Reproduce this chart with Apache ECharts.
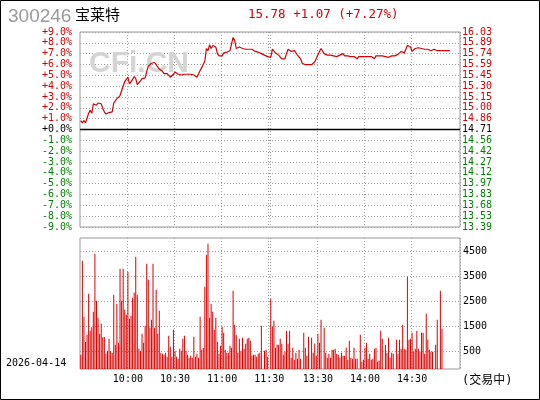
<!DOCTYPE html>
<html><head><meta charset="utf-8">
<script src="https://cdn.jsdelivr.net/npm/echarts@6/dist/echarts.min.js"></script>
<style>html,body{margin:0;padding:0;background:#fff}#c{width:540px;height:400px}</style>
</head><body><div id="c"></div>
<script>
const stockCode = '300246';
const stockName = '宝莱特';
const quoteText = '15.78 +1.07 (+7.27%)';
const tradeDate = '2026-04-14';
const statusText = '(交易中)';
const prevClose = 14.71;

const prices = [
14.83,14.80,14.83,14.80,14.79,14.93,14.97,14.93,15.06,15.07,
15.04,15.07,15.09,15.06,15.00,14.95,14.92,14.94,14.94,14.94,
14.95,15.07,15.07,15.13,15.13,15.17,15.24,15.30,15.36,15.37,
15.42,15.33,15.34,15.39,15.43,15.40,15.32,15.33,15.37,15.40,
15.40,15.41,15.50,15.57,15.59,15.61,15.63,15.62,15.59,15.56,
15.53,15.52,15.50,15.47,15.46,15.47,15.45,15.42,15.42,15.46,
15.49,15.47,15.46,15.44,15.45,15.47,15.46,15.46,15.46,15.47,
15.46,15.45,15.45,15.44,15.42,15.41,15.51,15.55,15.56,15.64,
15.81,15.78,15.86,15.81,15.85,15.84,15.83,15.74,15.71,15.69,
15.71,15.75,15.76,15.76,15.76,15.78,15.80,15.96,15.92,15.81,
15.81,15.83,15.84,15.81,15.80,15.80,15.78,15.80,15.78,15.80,
15.78,15.77,15.76,15.76,15.74,15.74,15.72,15.72,15.71,15.70,
15.71,15.69,15.80,15.81,15.75,15.74,15.72,15.70,15.67,15.67,
15.67,15.74,15.80,15.78,15.77,15.78,15.78,15.76,15.72,15.70,
15.67,15.61,15.61,15.59,15.59,15.59,15.59,15.59,15.61,15.63,
15.64,15.72,15.77,15.81,15.80,15.74,15.72,15.72,15.71,15.72,
15.74,15.71,15.72,15.70,15.71,15.72,15.74,15.74,15.71,15.71,
15.71,15.70,15.70,15.69,15.70,15.69,15.67,15.70,15.71,15.70,
15.69,15.70,15.71,15.70,15.70,15.70,15.70,15.67,15.71,15.71,
15.71,15.73,15.71,15.71,15.70,15.69,15.69,15.70,15.71,15.71,
15.71,15.71,15.73,15.74,15.77,15.78,15.75,15.80,15.85,15.83,
15.83,15.77,15.79,15.81,15.83,15.82,15.81,15.81,15.80,15.80,
15.80,15.80,15.78,15.78,15.78,15.80,15.80,15.78,15.77,15.78,
15.78,15.78,15.78,15.78,15.78,15.78
];

const volumes = [
350,4110,1860,860,1150,2790,1310,1450,2070,4390,
2510,1830,1190,1590,1050,1060,390,510,990,500,
420,2750,750,2390,830,3790,2510,3790,2150,1950,
3670,1790,1910,2630,2830,4270,2750,590,510,1190,
830,1510,3990,3350,1430,1750,3990,1430,2950,1190,
2110,430,390,350,430,270,1110,670,270,1350,
510,270,190,590,510,990,1110,510,350,230,
310,230,1070,270,390,230,1870,550,620,3070,
4350,4790,1830,2390,2070,1350,1830,870,390,710,
1470,1230,550,430,430,710,630,2910,1550,1150,
430,990,510,1030,590,790,990,1030,910,310,
350,350,270,390,430,1510,null,510,550,270,
null,2590,1470,1710,630,750,750,990,790,350,
470,1310,790,1310,230,630,150,430,190,550,
190,null,1230,630,310,1070,null,1030,430,790,
310,1190,830,1750,null,1430,430,230,390,230,
550,550,590,390,350,230,430,310,310,630,
150,910,230,190,630,190,190,null,1150,70,
150,630,830,190,390,150,190,590,630,70,
110,1310,990,null,750,430,1030,230,430,390,
null,950,390,950,590,1550,590,550,3470,950,
990,1230,470,590,1310,590,470,1230,1230,390,
1990,950,550,470,470,null,750,1750,null,2910,
1390
];

const priceLabels = ['13.39','13.53','13.68','13.83','13.97','14.12','14.27','14.42','14.56','14.71',
                     '14.86','15.00','15.15','15.30','15.45','15.59','15.74','15.89','16.03'];
const volumeTicks = [500, 1500, 2500, 3500, 4500];
const timeLabels = ['10:00','10:30','11:00','11:30','13:30','14:00','14:30'];
const gridTimes = ['10:00','10:30','11:00','11:30','13:00','13:30','14:00','14:30'];

// minute categories 9:30-11:30 and 13:00-15:00
const times = [];
function addRange(h0, m0, count) {
  for (let k = 0; k < count; k++) {
    const t = h0 * 60 + m0 + k;
    const h = Math.floor(t / 60), m = t % 60;
    times.push(h + ':' + (m < 10 ? '0' : '') + m);
  }
}
addRange(9, 30, 121);
addRange(13, 0, 121);

const RED = '#d40000', GREEN = '#008000';
const MONO = "'DejaVu Sans Mono', monospace";
const dotted = { color: '#a0a0a0', width: 1, type: [1, 2] };

function pctLabel(v) {
  const s = Math.abs(v).toFixed(1) + '%';
  return (v < 0 ? '-' : '+') + s;
}
function signColor(v) {
  v = Number(v);
  return v > 0 ? RED : (v < 0 ? GREEN : '#000');
}

const chart = echarts.init(document.getElementById('c'), null, { renderer: 'canvas' });
chart.setOption({
  animation: false,
  backgroundColor: '#fff',
  grid: [
    { left: 80, top: 32, width: 380, height: 195, show: true, borderColor: '#999', borderWidth: 1, backgroundColor: 'transparent' },
    { left: 80, top: 238, width: 380, height: 131, show: true, borderColor: '#999', borderWidth: 1, backgroundColor: 'transparent' }
  ],
  xAxis: [
    { type: 'category', gridIndex: 0, data: times, boundaryGap: true,
      axisLine: { show: false }, axisTick: { show: false }, axisLabel: { show: false },
      splitLine: { show: true, interval: (i, v) => gridTimes.includes(v), lineStyle: dotted } },
    { type: 'category', gridIndex: 1, data: times, boundaryGap: true,
      axisLine: { show: false }, axisTick: { show: false },
      axisLabel: { show: true, interval: (i, v) => timeLabels.includes(v), margin: 5,
                   fontFamily: MONO, fontSize: 10, color: '#000' },
      splitLine: { show: true, interval: (i, v) => gridTimes.includes(v), lineStyle: dotted } }
  ],
  yAxis: [
    { type: 'value', gridIndex: 0, position: 'left', min: -9, max: 9, interval: 1,
      axisLine: { show: false }, axisTick: { show: false },
      splitLine: { show: true, lineStyle: dotted },
      axisLabel: { margin: 8, fontFamily: MONO, fontSize: 10, formatter: v => pctLabel(v), color: v => signColor(v) } },
    { type: 'value', gridIndex: 0, position: 'right', min: -9, max: 9, interval: 1,
      axisLine: { show: false }, axisTick: { show: false }, splitLine: { show: false },
      axisLabel: { margin: 2, fontFamily: MONO, fontSize: 10, formatter: v => priceLabels[Math.round(v) + 9], color: v => signColor(v) } },
    { type: 'value', gridIndex: 0, min: prevClose * 0.91, max: prevClose * 1.09, show: false },
    { type: 'value', gridIndex: 1, min: -220, max: 5020, startValue: -220, show: false, splitLine: { show: false } }
  ],
  series: [
    { type: 'line', xAxisIndex: 0, yAxisIndex: 2, data: prices, showSymbol: false, symbol: 'none',
      lineStyle: { color: RED, width: 1.2 }, z: 5,
      markLine: { silent: true, symbol: 'none', label: { show: false },
        lineStyle: { color: '#000', width: 1.3, type: 'solid' }, data: [{ yAxis: prevClose }] } },
    { type: 'bar', xAxisIndex: 1, yAxisIndex: 3, data: volumes, barWidth: 1,
      itemStyle: { color: '#dd0000' }, z: 5,
      markLine: { silent: true, symbol: 'none',
        lineStyle: dotted,
        label: { show: true, position: 'end', distance: 3, formatter: p => String(p.value), fontFamily: MONO, fontSize: 10, color: '#000' },
        data: volumeTicks.map(v => ({ yAxis: v })) } }
  ],
  graphic: [
    { type: 'rect', z: 100, shape: { x: 0.5, y: 0.5, width: 539, height: 399 }, style: { fill: 'none', stroke: '#000', lineWidth: 1 } },
    { type: 'text', z: 1, style: { text: 'CFi.CN', x: 89, y: 64, font: "bold 30px 'Liberation Sans', Arial, sans-serif", fill: '#d4d4d4', verticalAlign: 'middle' } },
    { type: 'text', style: { text: stockCode, x: 8, y: 16.5, font: "19px 'Liberation Sans', Arial, sans-serif", fill: '#999', verticalAlign: 'middle' } },
    { type: 'text', style: { text: stockName, x: 75, y: 14, font: "15px 'Noto Sans CJK SC', sans-serif", fill: '#000', verticalAlign: 'middle' } },
    { type: 'text', style: { text: quoteText, x: 248, y: 14.5, font: "12.5px " + MONO, fill: RED, verticalAlign: 'middle' } },
    { type: 'text', style: { text: tradeDate, x: 6, y: 363.5, font: "10px " + MONO, fill: '#000', verticalAlign: 'middle' } },
    { type: 'text', style: { text: statusText, x: 462, y: 380.5, font: "12px 'DejaVu Sans Mono', 'Noto Sans CJK SC', sans-serif", fill: '#000', verticalAlign: 'middle' } }
  ]
});
</script></body></html>
